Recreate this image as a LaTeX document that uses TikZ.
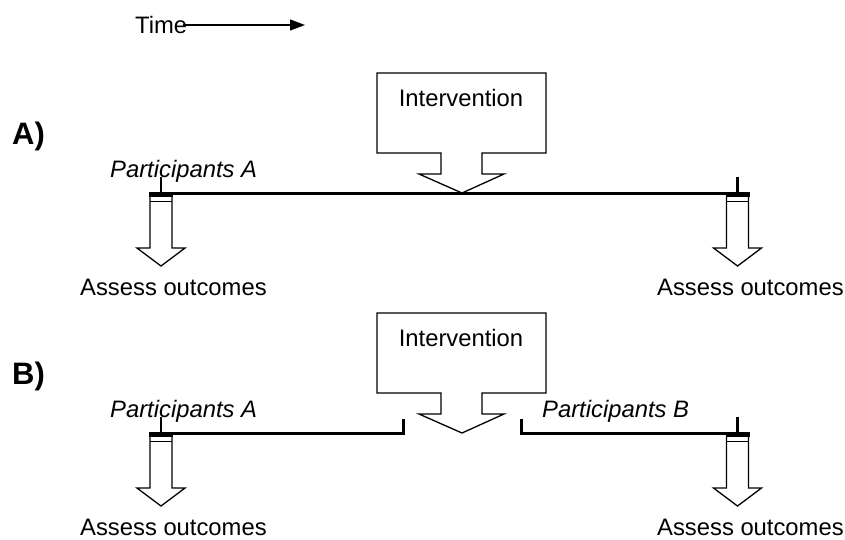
\documentclass[tikz,border=0pt]{standalone}
\usepackage{fontspec}
\setmainfont{Liberation Sans}
\usetikzlibrary{arrows.meta}

\tikzset{
  thinline/.style={line width=1.3pt, line join=miter},
  timeline/.style={line width=3pt},
  txt/.style={inner sep=0pt, font=\fontsize{23.8}{28}\selectfont},
  ptxt/.style={txt, font=\fontsize{23.8}{28}\selectfont\itshape},
  rowlabel/.style={inner sep=0pt, font=\fontsize{31}{36}\selectfont\bfseries},
  % assessment marker: tick, heavy cap, band and downward block arrow
  outcome/.pic={
    \draw[thinline, fill=white] (-11,5) -- (-11,56) -- (-24,56) -- (0,74)
        -- (24,56) -- (11,56) -- (11,5);
    \draw[thinline] (-11,9.5) -- (11,9.5);
    \fill (-12,0) rectangle (12,5);
    \draw[line width=2.6pt] (0,1) -- (0,-15);
  },
  % intervention callout: box with a notched arrow pointing down
  callout/.pic={
    \draw[thinline, fill=white] (377,73) -- (546,73) -- (546,153) -- (482,153)
        -- (482,174) -- (504,174) -- (462,193) -- (419,174) -- (441,174)
        -- (441,153) -- (377,153) -- cycle;
  }
}

\begin{document}
\begin{tikzpicture}[x=1pt, y=-1pt]
\useasboundingbox (0,0) rectangle (845,539);

% time axis
\node[txt, anchor=base west] (time) at (135,33) {Time};
\coordinate (tstart) at (183,25);
\coordinate (tend) at (305,25);
\draw[line width=1.3pt, -{Triangle[length=15pt, width=11pt]}] (tstart) -- (tend);

% ---- A) one group of participants ----
\node[rowlabel, anchor=base west] (labA) at (12,144) {A)};
\pic at (0,0) {callout};
\node[txt, anchor=base] (intA) at (461,106) {Intervention};
\coordinate (mA1) at (161,193.5);
\coordinate (mA2) at (737.5,193.5);
\draw[timeline] (mA1) -- (mA2);
\pic at (161,192) {outcome};
\pic at (737.5,192) {outcome};
\node[ptxt, anchor=base west] (partA) at (110,177) {Participants A};
\node[txt, anchor=base west] (assA1) at (80,295.5) {Assess outcomes};
\node[txt, anchor=base west] (assA2) at (657,295.5) {Assess outcomes};

% ---- B) separate groups before and after ----
\begin{scope}[shift={(0,240)}]
\node[rowlabel, anchor=base west] (labB) at (12,144) {B)};
\pic at (0,0) {callout};
\node[txt, anchor=base] (intB) at (461,106) {Intervention};
\coordinate (mB1) at (161,193.5);
\coordinate (mB2) at (737.5,193.5);
\coordinate (gapL) at (403,193.5);
\coordinate (gapR) at (521,193.5);
\draw[timeline, line join=miter] (mB1) -- (gapL) -- ++(0,-15);
\draw[timeline, line join=miter] (mB2) -- (gapR) -- ++(0,-15);
\pic at (161,192) {outcome};
\pic at (737.5,192) {outcome};
\node[ptxt, anchor=base west] (partBA) at (110,177) {Participants A};
\node[ptxt, anchor=base west] (partBB) at (542,177) {Participants B};
\node[txt, anchor=base west] (assB1) at (80,295.5) {Assess outcomes};
\node[txt, anchor=base west] (assB2) at (657,295.5) {Assess outcomes};
\end{scope}
\end{tikzpicture}
\end{document}
